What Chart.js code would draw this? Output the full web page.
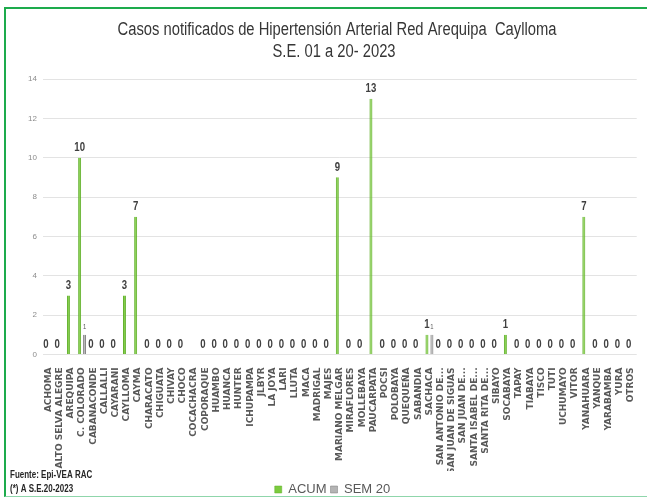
<!DOCTYPE html>
<html>
<head>
<meta charset="utf-8">
<script src="https://cdn.jsdelivr.net/npm/chart.js@4"></script>
<style>
  body { margin: 0; background: #fff; }
  #wrap { position: relative; width: 647px; height: 498px; overflow: hidden; }
  #frame {
    position: absolute; left: 4px; top: 7px; width: 660px; height: 487px;
    border-top: 2px solid #1dab4c; border-left: 2px solid #1dab4c;
    border-bottom: 1px solid #8fd6ab; pointer-events: none;
  }
  canvas { position: absolute; left: 0; top: 0; }
</style>
</head>
<body>
<div id="wrap">
  <canvas id="hipChart" width="647" height="498"></canvas>
  <div id="frame"></div>
</div>
<script>
const districts = [
  'ACHOMA', 'ALTO SELVA ALEGRE', 'AREQUIPA', 'C. COLORADO', 'CABANACONDE',
  'CALLALLI', 'CAYARANI', 'CAYLLOMA', 'CAYMA', 'CHARACATO', 'CHIGUATA',
  'CHIVAY', 'CHOCO', 'COCACHACRA', 'COPORAQUE', 'HUAMBO', 'HUANCA', 'HUNTER',
  'ICHUPAMPA', 'JLBYR', 'LA JOYA', 'LARI', 'LLUTA', 'MACA', 'MADRIGAL',
  'MAJES', 'MARIANO MELGAR', 'MIRAFLORES', 'MOLLEBAYA', 'PAUCARPATA', 'POCSI',
  'POLOBAYA', 'QUEQUEÑA', 'SABANDIA', 'SACHACA', 'SAN ANTONIO DE...',
  'SAN JUAN DE SIGUAS', 'SAN JUAN DE...', 'SANTA ISABEL DE...',
  'SANTA RITA DE...', 'SIBAYO', 'SOCABAYA', 'TAPAY', 'TIABAYA', 'TISCO',
  'TUTI', 'UCHUMAYO', 'VITOR', 'YANAHUARA', 'YANQUE', 'YARABAMBA', 'YURA',
  'OTROS'
];

// acumulado S.E. 01-20 (COCACHACRA sin dato)
const acum = [
  0, 0, 3, 10, 0, 0, 0, 3, 7, 0, 0, 0, 0, null, 0, 0, 0, 0, 0, 0, 0, 0, 0,
  0, 0, 0, 9, 0, 0, 13, 0, 0, 0, 0, 1, 0, 0, 0, 0, 0, 0, 1, 0, 0, 0, 0, 0,
  0, 7, 0, 0, 0, 0
];

// semana 20
const sem20 = [
  0, 0, 0, 1, 0, 0, 0, 0, 0, 0, 0, 0, 0, null, 0, 0, 0, 0, 0, 0, 0, 0, 0,
  0, 0, 0, 0, 0, 0, 0, 0, 0, 0, 0, 1, 0, 0, 0, 0, 0, 0, 0, 0, 0, 0, 0, 0,
  0, 0, 0, 0, 0, 0
];

const titleLines = ['Casos notificados de Hipertensión Arterial Red Arequipa  Caylloma', 'S.E. 01 a 20- 2023'];
const footerLines = ['Fuente: Epi-VEA RAC', '(*) A S.E.20-2023'];

const SANS = "'Liberation Sans', Arial, sans-serif";

// texto angosto (tipo Arial Narrow) escalando en horizontal
function narrowText(ctx, text, x, y, sx) {
  ctx.save();
  ctx.translate(x, y);
  ctx.scale(sx, 1);
  ctx.fillText(text, 0, 0);
  ctx.restore();
}

// etiquetas de valor sobre las barras
const valueLabels = {
  id: 'valueLabels',
  afterDatasetsDraw(chart) {
    const ctx = chart.ctx;
    ctx.save();
    ctx.textAlign = 'center';
    ctx.textBaseline = 'middle';
    chart.data.datasets.forEach((ds, i) => {
      const meta = chart.getDatasetMeta(i);
      meta.data.forEach((bar, j) => {
        const v = ds.data[j];
        if (v === null) return;
        if (i === 0) {
          ctx.font = 'bold 12px ' + SANS;
          ctx.fillStyle = '#404040';
          narrowText(ctx, String(v), bar.x, bar.y - 10, 0.8);
        } else if (v > 0) {
          ctx.font = '7px ' + SANS;
          ctx.fillStyle = '#595959';
          narrowText(ctx, String(v), bar.x, bar.y - 8, 0.85);
        }
      });
    });
    ctx.restore();
  }
};

// título, nota de fuente y posición de la leyenda
const decor = {
  id: 'decor',
  afterLayout(chart) {
    chart.legend.left = 0;
    chart.legend.right = 665;
    chart.legend.top += 8;
  },
  afterDraw(chart) {
    const ctx = chart.ctx;
    ctx.save();
    ctx.textBaseline = 'middle';
    ctx.textAlign = 'center';
    ctx.font = '18px ' + SANS;
    ctx.fillStyle = '#363636';
    narrowText(ctx, titleLines[0], 337, 30, 0.82);
    narrowText(ctx, titleLines[1], 334, 52, 0.82);

    ctx.textAlign = 'left';
    ctx.font = 'bold 10px ' + SANS;
    ctx.fillStyle = '#262626';
    narrowText(ctx, footerLines[0], 10, 475, 0.8);
    narrowText(ctx, footerLines[1], 10, 489, 0.8);
    ctx.restore();
  }
};

function createChart() {
  const ctx = document.getElementById('hipChart').getContext('2d');
  new Chart(ctx, {
    type: 'bar',
    data: {
      labels: districts,
      datasets: [{
        label: 'ACUM',
        data: acum,
        backgroundColor: '#7ccb3e',
        borderColor: '#5fae2a',
        borderWidth: { left: 1, right: 1, top: 0, bottom: 0 },
        categoryPercentage: 0.885,
        barPercentage: 0.6
      }, {
        label: 'SEM 20',
        data: sem20,
        backgroundColor: '#b4b4b4',
        borderColor: '#7a7a7a',
        borderWidth: { left: 1, right: 1, top: 0, bottom: 0 },
        categoryPercentage: 0.885,
        barPercentage: 0.6
      }]
    },
    options: {
      responsive: false,
      animation: false,
      layout: { padding: { top: 79, left: 22, right: 10, bottom: 0 } },
      plugins: {
        title: { display: false },
        legend: {
          position: 'bottom',
          labels: {
            boxWidth: 7,
            boxHeight: 7,
            padding: 4,
            color: '#595959',
            font: { family: SANS, size: 13 }
          }
        },
        tooltip: { enabled: false }
      },
      scales: {
        x: {
          grid: { display: false },
          border: { display: false },
          afterFit(scale) { scale.height -= 8; },
          ticks: {
            autoSkip: false,
            minRotation: 90,
            maxRotation: 90,
            padding: 5,
            color: '#595959',
            font: { family: 'DejaVu Sans', size: 9, weight: 'bold' }
          }
        },
        y: {
          min: 0,
          max: 14,
          grid: { color: '#e3e3e3', drawTicks: false },
          border: { display: false },
          ticks: {
            stepSize: 2,
            padding: 6,
            color: '#8c8c8c',
            font: { family: SANS, size: 8 }
          }
        }
      }
    },
    plugins: [valueLabels, decor]
  });
}

createChart();
</script>
</body>
</html>
